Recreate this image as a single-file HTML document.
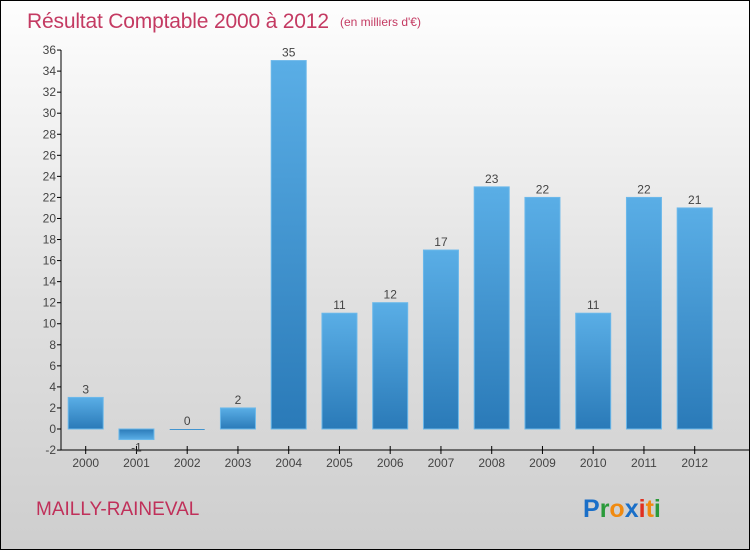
<!DOCTYPE html>
<html><head><meta charset="utf-8"><style>
body{margin:0;width:750px;height:550px;overflow:hidden;font-family:"Liberation Sans",sans-serif}
#wrap{position:absolute;left:0;top:0;width:748px;height:548px;border:1px solid #000;background:linear-gradient(#fefefe,#e0e0e0 55%,#cecece)}
</style></head><body>
<div id="wrap">
<svg id="chart" width="748" height="548">
<defs><linearGradient id="bg" x1="0" y1="0" x2="0" y2="1"><stop offset="0" stop-color="#5aaee6"/><stop offset="1" stop-color="#2a7ab8"/></linearGradient>
<linearGradient id="bgn" x1="0" y1="1" x2="0" y2="0"><stop offset="0" stop-color="#5aaee6"/><stop offset="1" stop-color="#2a7ab8"/></linearGradient></defs>
<text x="26" y="27" font-size="21" fill="#c43a62" textLength="302">Résultat Comptable 2000 à 2012</text>
<text x="339" y="25" font-size="12" fill="#c43a62">(en milliers d'€)</text>
<text x="35" y="514" font-size="19" fill="#c0305a">MAILLY-RAINEVAL</text>
<text x="582" y="516" font-size="25" font-weight="bold"><tspan fill="#1a6fc8">P</tspan><tspan fill="#2a9a3a">r</tspan><tspan fill="#f08a10">o</tspan><tspan fill="#1a6fc8">x</tspan><tspan fill="#e03020">i</tspan><tspan fill="#f08a10">t</tspan><tspan fill="#2a9a3a">i</tspan></text>
<g id="plot"></g>
</svg></div>
<script>
const categories=["2000","2001","2002","2003","2004","2005","2006","2007","2008","2009","2010","2011","2012"];
const values=[3,-1,0,2,35,11,12,17,23,22,11,22,21];
const yTicks=[-2,0,2,4,6,8,10,12,14,16,18,20,22,24,26,28,30,32,34,36];
const NS="http://www.w3.org/2000/svg";
const g=document.getElementById('plot');
const y=v=>429-v*(400/38)-1;
const x=i=>84.7+i*50.75;
function mk(t,a){const e=document.createElementNS(NS,t);for(const k in a)e.setAttribute(k,a[k]);g.appendChild(e);return e;}
let ax=mk('line',{x1:60,y1:49,x2:60,y2:449,stroke:'#000'});


let bx=mk('line',{x1:60,y1:449,x2:748,y2:449,stroke:'#000'});


yTicks.forEach(v=>{
 mk('line',{x1:56,x2:60,y1:y(v),y2:y(v),stroke:'#000'});
 const t=mk('text',{x:55,y:y(v)+4,'text-anchor':'end','font-size':12,fill:'#444'});t.textContent=v;
 
 
});
categories.forEach((c,i)=>{
 const v=values[i],cx=x(i);
 mk('line',{x1:cx,x2:cx,y1:445,y2:453,stroke:'#000'});
 const t=mk('text',{x:cx,y:466,'text-anchor':'middle','font-size':12,fill:'#444'});t.textContent=c;
 
 
 const top=Math.min(y(v),y(0)),h=Math.max(Math.abs(y(v)-y(0)),1);
 const r=mk('rect',{x:cx-17.5,y:top,width:35,height:h,fill:v<0?'url(#bgn)':'url(#bg)',stroke:'#6bb8ea','stroke-width':v===0?0:1});
 
 
 const l=mk('text',{x:cx,y:v<0?y(v)+12:y(v)-4,'text-anchor':'middle','font-size':12,fill:'#444'});l.textContent=v;
 
 
});
</script>
</body></html>
